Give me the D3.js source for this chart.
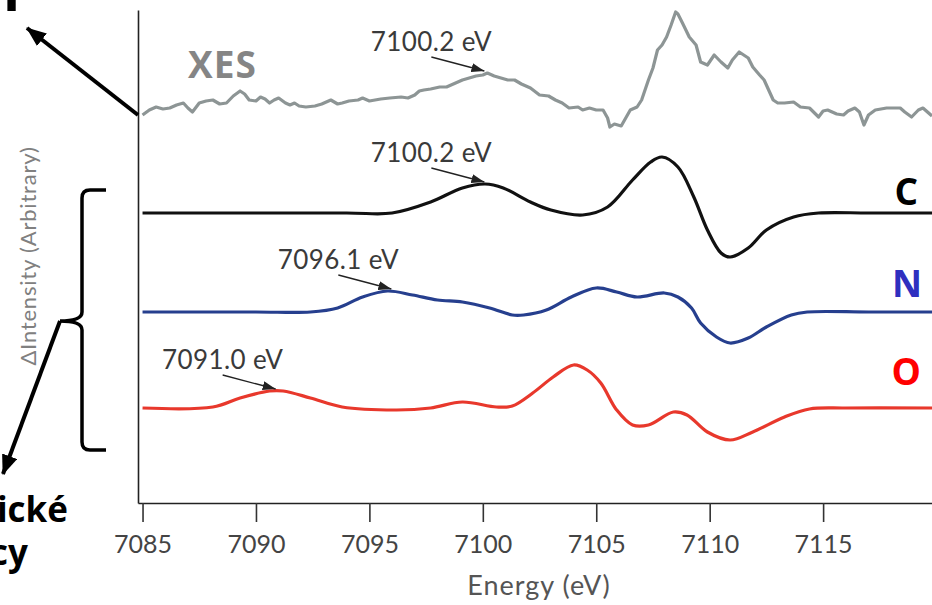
<!DOCTYPE html>
<html>
<head>
<meta charset="utf-8">
<script src="https://cdn.jsdelivr.net/npm/d3@7"></script>
<style>
  body { margin: 0; background: #fff; }
  svg { display: block; }
</style>
</head>
<body>
<div id="chart"></div>
<script>
// x ticks shown on the energy axis
const energyTicks = [7085, 7090, 7095, 7100, 7105, 7110, 7115];

// series names and vertical offsets (arbitrary units)
const seriesNames = ['XES', 'C', 'N', 'O'];
const seriesOffsets = [38.8, 29.0, 19.1, 9.5];

// measured XES spectrum [energy eV, intensity]
const xesData = [
  [7085.0, 0], [7085.3, 0.5], [7085.6, 0.8], [7085.9, 0.6], [7086.2, 0.7], [7086.5, 1.0],
  [7086.8, 1.2], [7087.0, 0.7], [7087.2, 0.3], [7087.5, 1.2], [7087.8, 1.4], [7088.1, 1.5],
  [7088.4, 1.1], [7088.7, 1.2], [7089.0, 1.9], [7089.3, 2.4], [7089.5, 2.1], [7089.7, 1.5],
  [7090.0, 1.4], [7090.2, 1.8], [7090.4, 1.6], [7090.6, 1.2], [7090.8, 1.5], [7091.0, 1.7],
  [7091.3, 1.2], [7091.5, 1.0], [7091.7, 1.2], [7091.9, 0.9], [7092.2, 0.8], [7092.6, 0.9],
  [7092.9, 1.1], [7093.3, 1.5], [7093.6, 1.1], [7093.8, 1.2], [7094.1, 1.4], [7094.5, 1.5],
  [7094.7, 1.7], [7095.0, 1.4], [7095.5, 1.6], [7095.9, 1.7], [7096.4, 1.8], [7096.7, 1.7],
  [7097.0, 2.0], [7097.2, 2.4], [7097.4, 2.5], [7097.7, 2.6], [7098.1, 2.8], [7098.4, 2.8],
  [7098.8, 3.2], [7099.1, 3.5], [7099.4, 3.7], [7099.7, 3.9], [7100.0, 4.0], [7100.2, 4.2],
  [7100.5, 3.9], [7100.8, 3.7], [7101.1, 3.5], [7101.4, 3.5], [7101.7, 3.1], [7102.1, 2.7],
  [7102.5, 2.0], [7102.9, 1.9], [7103.2, 1.5], [7103.5, 1.2], [7103.8, 0.7], [7104.2, 0.8],
  [7104.4, 0.5], [7104.7, 0.7], [7105.0, 0.5], [7105.3, 0.5], [7105.5, -0.3], [7105.6, -1.2],
  [7105.8, -0.9], [7106.1, -1.1], [7106.3, -0.3], [7106.5, 0.5], [7106.8, 0.8], [7107.0, 1.5],
  [7107.3, 3.5], [7107.5, 4.7], [7107.7, 6.5], [7107.9, 7.0], [7108.1, 7.8], [7108.3, 9.0],
  [7108.5, 10.3], [7108.6, 10.1], [7108.8, 9.2], [7109.1, 7.8], [7109.4, 7.0], [7109.6, 5.3],
  [7109.9, 5.0], [7110.2, 6.0], [7110.5, 5.3], [7110.8, 4.7], [7111.0, 5.5], [7111.3, 6.3],
  [7111.7, 5.7], [7111.9, 4.8], [7112.2, 4.0], [7112.4, 3.5], [7112.6, 2.5], [7112.8, 1.5],
  [7113.0, 1.2], [7113.3, 1.2], [7113.7, 1.3], [7114.0, 0.8], [7114.4, 0.7], [7114.8, -0.2],
  [7115.0, 0.4], [7115.2, 0.5], [7115.6, 0.1], [7115.9, 0], [7116.1, 0.4], [7116.4, 0.7],
  [7116.6, 0.3], [7116.8, -1.0], [7117.0, 0], [7117.3, 0.5], [7117.8, 0.7], [7118.4, 0.7],
  [7118.6, 0.3], [7118.9, -0.2], [7119.2, 0.5], [7119.4, 0.7], [7119.8, -0.1]
];

// calculated spectra [energy eV, intensity]
const cData = [
  [7085.0, 0], [7094.0, 0], [7096.0, 0], [7097.7, 1.1], [7099.1, 2.5], [7100.1, 2.9],
  [7100.9, 2.5], [7102.1, 1.1], [7103.0, 0.3], [7104.4, -0.2], [7105.5, 0.6], [7106.6, 3.3],
  [7107.4, 5.1], [7107.9, 5.6], [7108.6, 4.6], [7109.3, 1.6], [7109.9, -1.7], [7110.5, -4.0],
  [7110.9, -4.4], [7111.7, -3.5], [7112.5, -1.7], [7113.7, -0.4], [7114.8, 0], [7117.0, 0],
  [7119.8, 0]
];
const nData = [
  [7085.0, 0], [7090.0, 0], [7092.4, 0], [7093.6, 0.4], [7094.7, 1.5], [7095.8, 2.1],
  [7096.9, 1.7], [7098.0, 1.2], [7099.1, 1.0], [7100.3, 0.4], [7101.3, -0.3], [7101.8, -0.3],
  [7102.8, 0.2], [7103.9, 1.5], [7105.0, 2.4], [7105.9, 2.0], [7106.8, 1.5], [7108.0, 1.9],
  [7108.6, 1.5], [7109.2, 0.4], [7109.6, -1.1], [7110.3, -2.5], [7110.9, -3.1], [7111.7, -2.6],
  [7112.5, -1.5], [7113.6, -0.3], [7114.3, 0], [7117.0, 0], [7119.8, 0]
];
const oData = [
  [7085.0, 0], [7088.1, 0.1], [7089.3, 1.0], [7090.6, 1.7], [7091.2, 1.7], [7092.4, 1.0],
  [7093.8, 0.1], [7096.2, -0.2], [7097.7, 0], [7099.1, 0.6], [7100.6, 0.1], [7101.3, 0.2],
  [7102.2, 1.5], [7103.1, 3.1], [7104.0, 4.3], [7104.6, 3.8], [7105.2, 2.5], [7105.9, -0.2],
  [7106.6, -1.7], [7107.3, -1.7], [7108.4, -0.4], [7109.0, -0.7], [7109.9, -2.4], [7110.9, -3.2],
  [7111.9, -2.4], [7113.3, -0.9], [7114.4, -0.1], [7116.0, 0], [7119.8, 0]
];

// peak annotations
const annoLabels = ['7100.2 eV', '7100.2 eV', '7096.1 eV', '7091.0 eV'];
const annoEnergy = [7100.2, 7100.2, 7096.1, 7091.0];
const annoValue = [4.2, 2.9, 2.1, 1.7];

const W = 932;
const H = 605;
const seriesColours = ['#8d9595', '#111111', '#263f8e', '#e8382c'];
const labelColours = ['#858585', '#000000', '#2f2fbf', '#ff0000'];
const labelLift = [0, 8, 15, 23];
const labelRight = [0, 918, 922, 921];
const sans = 'Lato, "Noto Sans", sans-serif';
const bold = '"Open Sans", "Liberation Sans", sans-serif';

const svg = d3.select('#chart').append('svg')
  .attr('width', W)
  .attr('height', H)
  .style('font-family', sans);

const x = d3.scaleLinear().domain([7084.8, 7119.8]).range([138, 932]);
const y = d3.scaleLinear().domain([0, 49.3]).range([503, 10]);

// arrow heads
const defs = svg.append('defs');
defs.append('marker')
  .attr('id', 'thin')
  .attr('markerUnits', 'userSpaceOnUse')
  .attr('markerWidth', 14).attr('markerHeight', 10)
  .attr('refX', 13).attr('refY', 4.5)
  .attr('orient', 'auto')
  .append('path').attr('d', 'M0,0 L13,4.5 L0,9 Z').attr('fill', '#222');
defs.append('marker')
  .attr('id', 'big')
  .attr('markerUnits', 'userSpaceOnUse')
  .attr('markerWidth', 22).attr('markerHeight', 18)
  .attr('refX', 19).attr('refY', 8)
  .attr('orient', 'auto')
  .append('path').attr('d', 'M0,0 L20,8 L0,16 Z').attr('fill', '#000');

// axes
const xAxis = svg.append('g')
  .attr('transform', `translate(0,${y(0)})`)
  .call(d3.axisBottom(x).tickValues(energyTicks).tickSize(19).tickSizeOuter(0).tickPadding(13)
    .tickFormat(d3.format('d')));
xAxis.select('.domain').attr('stroke', '#222').attr('stroke-width', 1.6);
xAxis.selectAll('.tick line').attr('stroke', '#333').attr('stroke-width', 1.6);
xAxis.selectAll('.tick text')
  .attr('font-size', 25)
  .attr('fill', '#444')
  .attr('font-family', sans);

const yAxis = svg.append('g')
  .attr('transform', `translate(${x.range()[0]},0)`)
  .call(d3.axisLeft(y).tickValues([]).tickSizeOuter(0));
yAxis.select('.domain').attr('stroke', '#222').attr('stroke-width', 1.6);

svg.append('text')
  .attr('x', 539)
  .attr('y', 595)
  .attr('text-anchor', 'middle')
  .attr('font-size', 27)
  .attr('letter-spacing', 1)
  .attr('fill', '#555')
  .text('Energy (eV)');

svg.append('text')
  .attr('transform', 'translate(36,256) rotate(-90)')
  .attr('text-anchor', 'middle')
  .attr('font-size', 22)
  .attr('letter-spacing', 0.8)
  .attr('fill', '#808080')
  .text('ΔIntensity (Arbitrary)');

// curves
const allData = [xesData, cData, nData, oData];
allData.forEach((data, i) => {
  const line = d3.line()
    .x((d) => x(d[0]))
    .y((d) => y(seriesOffsets[i] + d[1]))
    .curve(i === 0 ? d3.curveLinear : d3.curveCatmullRom.alpha(0.5));
  svg.append('path')
    .datum(data)
    .attr('fill', 'none')
    .attr('stroke', seriesColours[i])
    .attr('stroke-width', 3.2)
    .attr('stroke-linejoin', 'round')
    .attr('d', line);
});

// peak annotations
annoLabels.forEach((label, i) => {
  const tx = x(annoEnergy[i]) - 3;
  const ty = y(seriesOffsets[i] + annoValue[i]) - 2;
  svg.append('line')
    .attr('x1', tx - 53).attr('y1', ty - 14)
    .attr('x2', tx).attr('y2', ty)
    .attr('stroke', '#222')
    .attr('stroke-width', 1.3)
    .attr('marker-end', 'url(#thin)');
  svg.append('text')
    .attr('x', tx - 53)
    .attr('y', ty - 20)
    .attr('text-anchor', 'middle')
    .attr('font-size', 26)
    .attr('letter-spacing', 0.4)
    .attr('fill', '#3a3a3a')
    .text(label);
});

// series labels
svg.append('text')
  .attr('x', 188).attr('y', 78)
  .attr('font-family', bold).attr('font-weight', 700).attr('font-size', 37)
  .attr('letter-spacing', 1)
  .attr('fill', labelColours[0])
  .text(seriesNames[0]);
[1, 2, 3].forEach((i) => {
  svg.append('text')
    .attr('x', labelRight[i]).attr('y', y(seriesOffsets[i]) - labelLift[i])
    .attr('text-anchor', 'end')
    .attr('font-family', bold).attr('font-weight', 700).attr('font-size', 37)
    .attr('fill', labelColours[i])
    .text(seriesNames[i]);
});

// bracket around the calculated spectra
svg.append('path')
  .attr('d', 'M106,190 L90,190 Q82,190 82,198 L82,312 Q82,321 60,321 Q82,321 82,330 L82,442 Q82,450 90,450 L106,450')
  .attr('fill', 'none')
  .attr('stroke', '#000')
  .attr('stroke-width', 3.5);

// pointer arrows to the captions at the left edge
svg.append('line')
  .attr('x1', 138).attr('y1', 115).attr('x2', 27).attr('y2', 28)
  .attr('stroke', '#000').attr('stroke-width', 4)
  .attr('marker-end', 'url(#big)');
svg.append('line')
  .attr('x1', 60).attr('y1', 321).attr('x2', 3).attr('y2', 474)
  .attr('stroke', '#000').attr('stroke-width', 4)
  .attr('marker-end', 'url(#big)');

// captions at the left / top edge (cut off in the source figure)
svg.append('text')
  .attr('x', 3).attr('y', -2)
  .attr('font-family', bold).attr('font-weight', 700).attr('font-size', 56)
  .text('p');
svg.append('text')
  .attr('x', 68).attr('y', 522)
  .attr('text-anchor', 'end')
  .attr('font-family', bold).attr('font-weight', 700).attr('font-size', 35)
  .text('ické');
svg.append('text')
  .attr('x', 28).attr('y', 565)
  .attr('text-anchor', 'end')
  .attr('font-family', bold).attr('font-weight', 700).attr('font-size', 35)
  .text('cy');
</script>
</body>
</html>
